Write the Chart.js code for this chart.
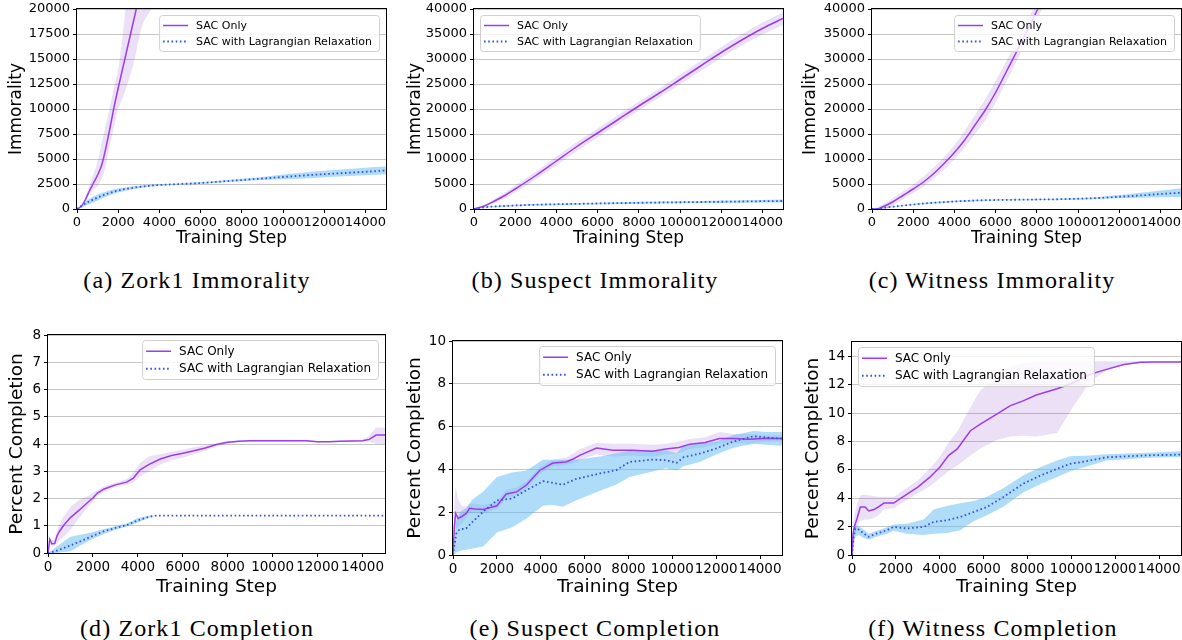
<!DOCTYPE html>
<html><head><meta charset="utf-8">
<script src="https://cdn.jsdelivr.net/npm/chart.js@4.4.0/dist/chart.umd.min.js"></script>
<style>
html,body{margin:0;padding:0;background:#fff;width:1182px;height:640px;overflow:hidden}
body{position:relative}
canvas{position:absolute}
.cap{position:absolute;font-family:"Liberation Serif","DejaVu Serif",serif;font-size:24px;letter-spacing:1.1px;color:#000;white-space:nowrap;transform:translate(-50%,-50%);line-height:28px}
</style></head><body>
<canvas id="cA" width="395" height="255" style="left:0px;top:0px"></canvas>
<canvas id="cB" width="393" height="255" style="left:397px;top:0px"></canvas>
<canvas id="cC" width="390" height="255" style="left:792px;top:0px"></canvas>
<canvas id="cD" width="395" height="278" style="left:0px;top:322px"></canvas>
<canvas id="cE" width="393" height="278" style="left:397px;top:322px"></canvas>
<canvas id="cF" width="390" height="278" style="left:792px;top:322px"></canvas>
<div class="cap" id="capA" style="left:197px;top:280px"></div>
<div class="cap" id="capB" style="left:595px;top:280px"></div>
<div class="cap" id="capC" style="left:992px;top:280px"></div>
<div class="cap" id="capD" style="left:197px;top:628px"></div>
<div class="cap" id="capE" style="left:595px;top:628px"></div>
<div class="cap" id="capF" style="left:993px;top:628px"></div>
<script>
// ---------- labels & ticks ----------
const seriesNames = ['SAC Only', 'SAC with Lagrangian Relaxation'];
const xTitle = 'Training Step';
const captions = ['(a) Zork1 Immorality', '(b) Suspect Immorality', '(c) Witness Immorality',
                  '(d) Zork1 Completion', '(e) Suspect Completion', '(f) Witness Completion'];
const xTicks = [0, 2000, 4000, 6000, 8000, 10000, 12000, 14000];
const ticksA = [0, 2500, 5000, 7500, 10000, 12500, 15000, 17500, 20000];
const ticksBC = [0, 5000, 10000, 15000, 20000, 25000, 30000, 35000, 40000];
const ticksD = [0, 1, 2, 3, 4, 5, 6, 7, 8];
const ticksE = [0, 2, 4, 6, 8, 10];
const ticksF = [0, 2, 4, 6, 8, 10, 12, 14];

// ---------- (a) Zork1 Immorality ----------
const aSacX  = [0, 200, 400, 600, 800, 1000, 1200, 1400, 1600, 1800, 2000, 2200, 2400, 2600, 2800, 3000, 3200, 3600, 3800];
const aSac   = [0, 250, 900, 1800, 2600, 3400, 4400, 6100, 8100, 10200, 12100, 13900, 15700, 17500, 19300, 21100, 22900, 26300, 28000];
const aSacLo = [0, 200, 700, 1500, 1900, 2300, 3000, 4400, 6400, 8200, 10000, 11000, 12200, 13500, 15000, 17000, 18500, 20000, 21000];
const aSacHi = [0, 300, 1100, 2300, 3500, 4700, 6600, 8400, 10200, 12200, 14000, 17000, 21000, 24000, 27000, 30000, 33000, 38000, 40000];
const aLrX   = [0, 250, 500, 1000, 1500, 2000, 2500, 3000, 3500, 4000, 5000, 6000, 7000, 8000, 9000, 10000, 11000, 12000, 13000, 14000, 15000];
const aLr    = [0, 350, 650, 1150, 1550, 1850, 2050, 2200, 2320, 2400, 2500, 2600, 2750, 2900, 3050, 3200, 3350, 3480, 3600, 3720, 3850];
const aLrLo  = [0, 150, 400, 850, 1300, 1650, 1900, 2080, 2220, 2320, 2440, 2530, 2660, 2780, 2900, 2980, 3050, 3180, 3280, 3380, 3470];
const aLrHi  = [0, 500, 900, 1450, 1800, 2050, 2200, 2320, 2420, 2480, 2560, 2670, 2840, 3020, 3200, 3450, 3650, 3820, 3980, 4130, 4250];

// ---------- (b) Suspect Immorality ----------
const bX     = [0, 500, 1000, 1500, 2000, 3000, 4000, 5000, 6000, 7000, 8000, 9000, 10000, 11000, 12000, 13000, 14000, 15000];
const bSac   = [0, 600, 1600, 2700, 4000, 6700, 9600, 12500, 15200, 17900, 20600, 23200, 25900, 28600, 31300, 33800, 36100, 38100];
const bSacLo = [0, 400, 1200, 2100, 3300, 5900, 8700, 11600, 14300, 17000, 19700, 22300, 24900, 27600, 30200, 32700, 34900, 36800];
const bSacHi = [0, 800, 2000, 3300, 4700, 7500, 10500, 13400, 16100, 18800, 21500, 24100, 26900, 29600, 32400, 34900, 37300, 39300];
const bLr    = [0, 350, 500, 600, 700, 850, 950, 1030, 1100, 1170, 1240, 1300, 1350, 1400, 1450, 1500, 1560, 1600];
const bLrLo  = [0, 250, 380, 470, 560, 700, 800, 870, 930, 990, 1050, 1100, 1140, 1180, 1220, 1260, 1290, 1300];
const bLrHi  = [0, 450, 620, 730, 840, 1000, 1100, 1190, 1270, 1350, 1430, 1500, 1560, 1620, 1680, 1740, 1820, 1900];

// ---------- (c) Witness Immorality ----------
const cSacX  = [0, 250, 500, 1000, 1500, 2000, 2500, 3000, 3500, 4000, 4500, 5000, 5500, 6000, 6500, 7000, 7500, 8000, 8500, 9000];
const cSac   = [0, 0, 400, 1400, 2700, 4000, 5400, 7100, 9100, 11300, 13800, 16800, 19800, 23300, 27300, 31300, 35400, 39600, 43800, 48000];
const cSacLo = [0, 0, 0, 700, 1900, 3200, 4500, 6100, 7900, 10000, 12300, 15000, 17800, 21300, 25300, 29400, 33600, 37800, 42000, 46000];
const cSacHi = [0, 300, 900, 2100, 3500, 4900, 6500, 8300, 10400, 12800, 15600, 18800, 22000, 25600, 29400, 33300, 37300, 41400, 45600, 50000];
const cLrX   = [0, 250, 500, 1000, 2000, 3000, 4000, 5000, 6000, 7000, 8000, 9000, 10000, 11000, 12000, 13000, 14000, 15000];
const cLr    = [0, 0, 200, 450, 900, 1250, 1500, 1700, 1800, 1850, 1900, 1950, 2050, 2200, 2450, 2700, 3000, 3250];
const cLrLo  = [0, 0, 100, 350, 780, 1120, 1370, 1570, 1680, 1730, 1780, 1830, 1920, 2020, 2150, 2250, 2350, 2400];
const cLrHi  = [0, 100, 300, 550, 1020, 1380, 1630, 1830, 1920, 1970, 2020, 2070, 2180, 2400, 2800, 3250, 3700, 4150];

// ---------- (d) Zork1 Completion ----------
const dSacX  = [0, 80, 180, 300, 400, 500, 700, 1000, 1400, 1800, 2000, 2200, 2500, 3000, 3500, 3800, 4100, 4500, 5000, 5500, 6000, 6500, 7000, 7500, 8000, 8500, 9000, 10000, 11000, 11500, 12000, 12500, 13000, 14000, 14300, 14600, 15000];
const dSac   = [0, 0.5, 0.33, 0.35, 0.62, 0.78, 1.02, 1.3, 1.58, 1.88, 2.02, 2.2, 2.35, 2.5, 2.6, 2.75, 3.05, 3.25, 3.45, 3.58, 3.66, 3.75, 3.85, 3.98, 4.06, 4.1, 4.12, 4.12, 4.12, 4.12, 4.08, 4.08, 4.1, 4.12, 4.17, 4.33, 4.33];
const dSacLo = [0, 0.35, 0.25, 0.28, 0.35, 0.45, 0.6, 0.85, 1.3, 1.7, 1.9, 2.1, 2.25, 2.42, 2.5, 2.6, 2.8, 3.0, 3.25, 3.4, 3.5, 3.62, 3.75, 3.92, 4.02, 4.07, 4.1, 4.1, 4.1, 4.1, 4.06, 4.06, 4.08, 4.08, 4.08, 4.0, 4.0];
const dSacHi = [0, 0.6, 0.45, 0.5, 0.8, 1.05, 1.35, 1.7, 1.95, 2.1, 2.2, 2.3, 2.45, 2.58, 2.72, 2.95, 3.3, 3.55, 3.62, 3.72, 3.8, 3.88, 3.95, 4.04, 4.1, 4.13, 4.14, 4.14, 4.14, 4.14, 4.1, 4.1, 4.12, 4.16, 4.3, 4.6, 4.6];
const dLrX   = [0, 250, 500, 1000, 1500, 2000, 2500, 3000, 3500, 4000, 4500, 4800, 15000];
const dLr    = [0, 0.05, 0.12, 0.28, 0.45, 0.63, 0.8, 0.92, 1.02, 1.2, 1.33, 1.37, 1.37];
const dLrLo  = [0, 0, 0.02, 0.06, 0.3, 0.52, 0.7, 0.85, 0.97, 1.12, 1.3, 1.37, 1.37];
const dLrHi  = [0, 0.15, 0.3, 0.6, 0.68, 0.77, 0.88, 0.98, 1.08, 1.28, 1.37, 1.37, 1.37];

// ---------- (e) Suspect Completion ----------
const eSacX  = [0, 60, 120, 230, 400, 600, 760, 1000, 1370, 1700, 2000, 2430, 2900, 3350, 3950, 4550, 5150, 5500, 5800, 6550, 7300, 8200, 9100, 9700, 10300, 10800, 11500, 12150, 12800, 13500, 14300, 15000];
const eSac   = [0, 1.3, 1.94, 1.71, 1.8, 1.94, 2.18, 2.15, 2.13, 2.22, 2.3, 2.85, 2.95, 3.27, 3.95, 4.3, 4.35, 4.5, 4.67, 5.0, 4.9, 4.9, 4.85, 4.95, 5.02, 5.18, 5.26, 5.44, 5.44, 5.41, 5.45, 5.44];
const eSacLo = [0, 0.8, 1.2, 1.3, 1.5, 1.75, 1.95, 1.95, 1.95, 2.05, 2.15, 2.65, 2.8, 3.1, 3.8, 4.15, 4.2, 4.3, 4.45, 4.7, 4.6, 4.65, 4.6, 4.7, 4.75, 4.95, 5.05, 5.2, 5.25, 5.2, 5.3, 5.3];
const eSacHi = [0, 2.5, 3.2, 2.6, 2.3, 2.25, 2.4, 2.4, 2.35, 2.4, 2.5, 3.05, 3.15, 3.45, 4.1, 4.45, 4.55, 4.75, 4.95, 5.25, 5.2, 5.2, 5.15, 5.2, 5.3, 5.42, 5.5, 5.75, 5.65, 5.65, 5.6, 5.6];
const eLrX   = [0, 150, 300, 600, 900, 1370, 2000, 2700, 3350, 4100, 4500, 5000, 5600, 6700, 7450, 8050, 9100, 9700, 10200, 10500, 11250, 12000, 12750, 13700, 14300, 15000];
const eLr    = [0, 1.0, 1.2, 1.24, 1.56, 2.02, 2.55, 2.64, 3.03, 3.45, 3.38, 3.28, 3.55, 3.81, 3.97, 4.35, 4.46, 4.43, 4.31, 4.56, 4.74, 4.98, 5.29, 5.55, 5.49, 5.44];
const eLrLo  = [0, 0.1, 0.2, 0.25, 0.3, 0.4, 1.05, 1.3, 1.7, 2.3, 2.35, 2.25, 2.55, 3.0, 3.3, 3.65, 3.9, 4.05, 3.95, 4.15, 4.35, 4.7, 5.0, 5.2, 5.15, 5.1];
const eLrHi  = [0, 1.6, 2.0, 2.2, 2.6, 2.95, 3.65, 3.85, 3.95, 4.45, 4.45, 4.45, 4.45, 4.6, 4.75, 4.87, 4.9, 4.9, 4.75, 5.1, 5.2, 5.3, 5.6, 5.8, 5.75, 5.75];

// ---------- (f) Witness Completion ----------
const fSacX  = [0, 50, 110, 230, 380, 600, 760, 1000, 1200, 1450, 1900, 2200, 3000, 3550, 4000, 4400, 4800, 5400, 5850, 6600, 7200, 7800, 8400, 9350, 10100, 10850, 11600, 12400, 13150, 13900, 15000];
const fSac   = [0, 1.5, 2.0, 2.57, 3.38, 3.38, 3.1, 3.2, 3.38, 3.66, 3.66, 3.97, 4.78, 5.48, 6.18, 7.0, 7.47, 8.75, 9.22, 9.92, 10.5, 10.85, 11.27, 11.71, 12.13, 12.72, 13.07, 13.42, 13.58, 13.6, 13.6];
const fSacLo = [0, 0.8, 1.3, 2.0, 2.4, 2.5, 2.5, 2.6, 2.8, 3.2, 3.3, 3.6, 4.35, 4.85, 5.4, 5.9, 6.3, 7.0, 7.5, 8.1, 8.35, 8.4, 8.35, 8.6, 10.5, 12.2, 13.0, 13.4, 13.5, 13.55, 13.55];
const fSacHi = [0, 2.2, 2.8, 3.6, 4.2, 4.25, 4.2, 4.15, 4.1, 4.1, 4.1, 4.4, 5.25, 6.1, 6.9, 7.9, 8.7, 10.4, 11.6, 12.6, 13.3, 13.5, 13.6, 13.65, 13.65, 13.65, 13.65, 13.65, 13.65, 13.65, 13.65];
const fLrX   = [0, 80, 150, 300, 530, 760, 1140, 1600, 1900, 2500, 3270, 3720, 4330, 4940, 5550, 6150, 6900, 7800, 8600, 9350, 9950, 10850, 11600, 12500, 13500, 15000];
const fLr    = [0, 1.28, 1.87, 1.8, 1.52, 1.28, 1.52, 1.75, 1.98, 1.87, 1.98, 2.33, 2.45, 2.68, 3.03, 3.38, 4.08, 5.02, 5.6, 6.07, 6.42, 6.65, 6.88, 6.95, 7.02, 7.07];
const fLrLo  = [0, 0.8, 1.3, 1.4, 1.2, 1.1, 1.3, 1.5, 1.7, 1.5, 1.4, 1.5, 1.55, 1.75, 2.4, 2.8, 3.4, 4.4, 5.0, 5.5, 5.9, 6.3, 6.65, 6.75, 6.85, 6.9];
const fLrHi  = [0, 1.9, 2.1, 2.05, 1.8, 1.5, 1.7, 1.95, 2.15, 2.2, 2.5, 3.2, 3.45, 3.65, 3.8, 4.1, 4.7, 5.6, 6.2, 6.65, 6.95, 7.0, 7.1, 7.15, 7.2, 7.3];

// ---------- styles ----------
const FONT = '"DejaVu Sans", sans-serif';
const purple = '#9b3cf0';
const blue = '#3550e8';
const purpleBand = 'rgba(128,48,195,0.15)';
const blueBand = 'rgba(93,185,243,0.5)';
const gridColor = '#c6c6c6';

const pts = (xs, ys) => xs.map((x, i) => ({x: x, y: ys[i]}));

const framePlugin = {
  id: 'frame',
  afterDatasetsDraw(chart) {
    const a = chart.chartArea, ctx = chart.ctx;
    ctx.save();
    ctx.strokeStyle = '#000'; ctx.lineWidth = 1;
    ctx.strokeRect(Math.round(a.left) - 0.5, Math.round(a.top) - 0.5,
                   Math.round(a.right - a.left) + 1, Math.round(a.bottom - a.top) + 1);
    ctx.restore();
  }
};

const boxLegend = {
  id: 'boxLegend',
  afterDraw(chart, args, o) {
    const ctx = chart.ctx, a = chart.chartArea;
    const items = chart.data.datasets.filter(d => d.inLegend);
    ctx.save();
    ctx.font = o.size + 'px ' + FONT;
    const tw = Math.max(...items.map(d => ctx.measureText(d.label).width));
    const w = 4 + o.sample + 8 + tw + 7;
    const h = o.rowH * items.length + 4;
    const x = o.pos === 'ur' ? a.right - 7 - w : a.left + 6;
    const y = a.top + o.dy;
    ctx.beginPath();
    if (ctx.roundRect) ctx.roundRect(x + 0.5, y + 0.5, w, h, 3); else ctx.rect(x + 0.5, y + 0.5, w, h);
    ctx.fillStyle = 'rgba(255,255,255,0.8)';
    ctx.fill();
    ctx.strokeStyle = '#d0d0d0'; ctx.lineWidth = 1;
    ctx.stroke();
    items.forEach((d, i) => {
      const cy = y + 2 + o.rowH * (i + 0.5) + 0.5;
      ctx.beginPath();
      ctx.strokeStyle = d.borderColor; ctx.lineWidth = d.borderWidth;
      ctx.setLineDash(d.borderDash || []);
      ctx.moveTo(x + 4, cy); ctx.lineTo(x + 4 + o.sample, cy);
      ctx.stroke();
      ctx.setLineDash([]);
      ctx.fillStyle = '#000'; ctx.textBaseline = 'middle'; ctx.textAlign = 'left';
      ctx.fillText(d.label, x + 4 + o.sample + 8, cy + 0.5);
    });
    ctx.restore();
  }
};

function makeChart(p) {
  const W = p.area.l - p.cv.l;
  const H = p.cv.t + p.cv.h - p.area.b;
  const mode = p.smooth ? 'monotone' : 'default';
  const band = (xs, ys, fill, color) => ({
    label: '', data: pts(xs, ys), borderWidth: 0, pointRadius: 0, fill: fill,
    backgroundColor: color, cubicInterpolationMode: mode, inLegend: false
  });
  const datasets = [
    Object.assign(band(p.sac.x, p.sac.lo, false, purpleBand), {order: 5}),
    Object.assign(band(p.sac.x, p.sac.hi, '-1', purpleBand), {order: 4}),
    Object.assign(band(p.lr.x, p.lr.lo, false, blueBand), {order: 3}),
    Object.assign(band(p.lr.x, p.lr.hi, '-1', blueBand), {order: 2}),
    {label: seriesNames[0], data: pts(p.sac.x, p.sac.m), borderColor: purple, borderWidth: 1.5,
     pointRadius: 0, fill: false, cubicInterpolationMode: mode, order: 1, inLegend: true},
    {label: seriesNames[1], data: pts(p.lr.x, p.lr.m), borderColor: blue, borderWidth: 1.8,
     borderDash: [1.6, 2.6], pointRadius: 0, fill: false, cubicInterpolationMode: mode, order: 0, inLegend: true}
  ];
  const tickFont = {family: FONT, size: p.tickSize};
  const titleFont = {family: FONT, size: p.titleSize};
  return new Chart(document.getElementById(p.id), {
    type: 'line',
    data: {datasets: datasets},
    options: {
      responsive: false, animation: false, devicePixelRatio: 1,
      layout: {autoPadding: false, padding: {left: 0, top: p.area.t - p.cv.t, right: p.cv.l + p.cv.w - p.area.r, bottom: 0}},
      plugins: {legend: {display: false}, tooltip: {enabled: false},
        boxLegend: p.legend},
      scales: {
        x: {type: 'linear', min: 0, max: 15000,
          afterBuildTicks: s => { s.ticks = xTicks.map(v => ({value: v})); },
          afterFit: s => { s.height = H; s.paddingLeft = 0; s.paddingRight = 0; },
          ticks: {autoSkip: false, maxRotation: 0, minRotation: 0, color: '#000', font: tickFont, padding: p.xTickPad,
            callback: v => String(v)},
          grid: {drawOnChartArea: false, drawTicks: true, tickLength: 4, tickColor: '#000', color: '#000'},
          border: {display: false},
          title: {display: true, text: xTitle, color: '#000', font: titleFont, padding: {top: 0, bottom: p.xTitlePad}}
        },
        y: {type: 'linear', min: 0, max: p.yMax,
          afterBuildTicks: s => { s.ticks = p.yTicks.map(v => ({value: v})); },
          afterFit: s => { s.width = W; s.paddingTop = 0; s.paddingBottom = 0; },
          ticks: {color: '#000', font: tickFont, padding: 3, callback: v => String(v)},
          grid: {drawOnChartArea: true, drawTicks: true, tickLength: 4, tickColor: '#000', color: gridColor, lineWidth: 1},
          border: {display: false},
          title: {display: true, text: p.yTitle, color: '#000', font: titleFont, padding: {top: p.yTitlePad, bottom: 0}}
        }
      }
    },
    plugins: [framePlugin, boxLegend]
  });
}

const topLegend = (pos) => ({pos: pos, size: 11, rowH: 16, sample: 25, dy: 6});
const botLegend = (pos) => ({pos: pos, size: 12, rowH: 17.5, sample: 25, dy: 5});

makeChart({id: 'cA', cv: {l: 0, t: 0, w: 395, h: 255}, area: {l: 77, r: 386, t: 9, b: 209},
  yMax: 20000, yTicks: ticksA, yTitle: 'Immorality', smooth: true, tickSize: 13, titleSize: 17,
  xTickPad: 2, xTitlePad: 6, yTitlePad: 6, legend: topLegend('ur'),
  sac: {x: aSacX, m: aSac, lo: aSacLo, hi: aSacHi}, lr: {x: aLrX, m: aLr, lo: aLrLo, hi: aLrHi}});
makeChart({id: 'cB', cv: {l: 397, t: 0, w: 393, h: 255}, area: {l: 474, r: 783, t: 9, b: 209},
  yMax: 40000, yTicks: ticksBC, yTitle: 'Immorality', smooth: true, tickSize: 13, titleSize: 17,
  xTickPad: 2, xTitlePad: 6, yTitlePad: 8, legend: topLegend('ul'),
  sac: {x: bX, m: bSac, lo: bSacLo, hi: bSacHi}, lr: {x: bX, m: bLr, lo: bLrLo, hi: bLrHi}});
makeChart({id: 'cC', cv: {l: 792, t: 0, w: 390, h: 255}, area: {l: 872, r: 1181, t: 9, b: 209},
  yMax: 40000, yTicks: ticksBC, yTitle: 'Immorality', smooth: true, tickSize: 13, titleSize: 17,
  xTickPad: 2, xTitlePad: 6, yTitlePad: 8, legend: topLegend('ur'),
  sac: {x: cSacX, m: cSac, lo: cSacLo, hi: cSacHi}, lr: {x: cLrX, m: cLr, lo: cLrLo, hi: cLrHi}});
makeChart({id: 'cD', cv: {l: 0, t: 322, w: 395, h: 278}, area: {l: 48, r: 385, t: 335, b: 553},
  yMax: 8, yTicks: ticksD, yTitle: 'Percent Completion', smooth: false, tickSize: 13.5, titleSize: 18.5,
  xTickPad: 2, xTitlePad: 2, yTitlePad: 6, legend: botLegend('ur'),
  sac: {x: dSacX, m: dSac, lo: dSacLo, hi: dSacHi}, lr: {x: dLrX, m: dLr, lo: dLrLo, hi: dLrHi}});
makeChart({id: 'cE', cv: {l: 397, t: 322, w: 393, h: 278}, area: {l: 453, r: 782, t: 341, b: 555},
  yMax: 10, yTicks: ticksE, yTitle: 'Percent Completion', smooth: false, tickSize: 13.5, titleSize: 18.5,
  xTickPad: 2, xTitlePad: 2, yTitlePad: 7, legend: botLegend('ur'),
  sac: {x: eSacX, m: eSac, lo: eSacLo, hi: eSacHi}, lr: {x: eLrX, m: eLr, lo: eLrLo, hi: eLrHi}});
makeChart({id: 'cF', cv: {l: 792, t: 322, w: 390, h: 278}, area: {l: 852, r: 1181, t: 342, b: 555},
  yMax: 15, yTicks: ticksF, yTitle: 'Percent Completion', smooth: false, tickSize: 13.5, titleSize: 18.5,
  xTickPad: 2, xTitlePad: 2, yTitlePad: 10, legend: botLegend('ul'),
  sac: {x: fSacX, m: fSac, lo: fSacLo, hi: fSacHi}, lr: {x: fLrX, m: fLr, lo: fLrLo, hi: fLrHi}});

['capA', 'capB', 'capC', 'capD', 'capE', 'capF'].forEach((id, i) => {
  document.getElementById(id).textContent = captions[i];
});
</script>
</body></html>
